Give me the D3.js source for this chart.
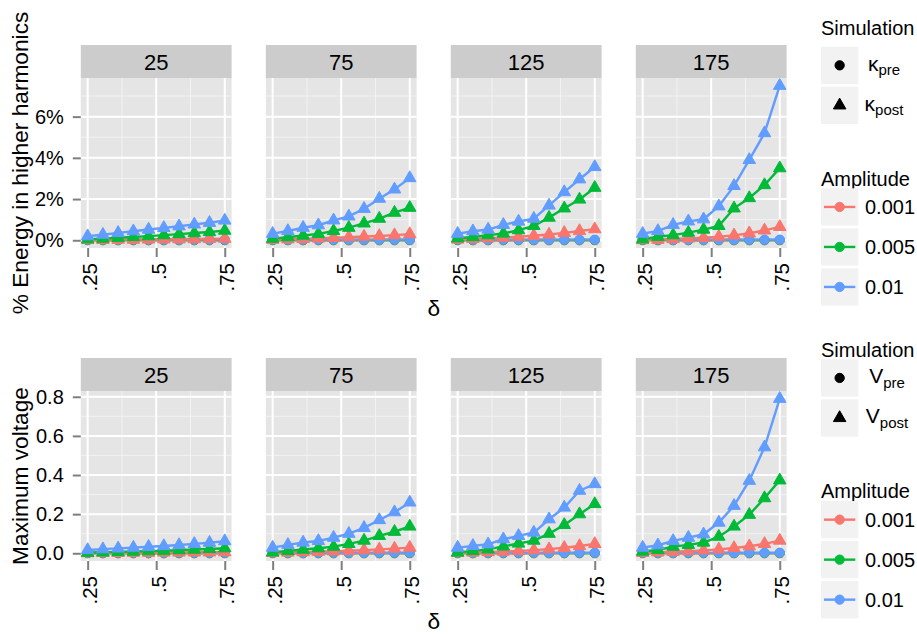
<!DOCTYPE html>
<html>
<head>
<meta charset="utf-8">
<script src="https://cdn.jsdelivr.net/npm/d3@7"></script>
<style>
  body { margin: 0; background: #fff; }
  text { font-family: "Liberation Sans", Arial, Helvetica, sans-serif; fill: #000; }
</style>
</head>
<body>
<svg id="chart" width="917" height="634"></svg>
<script>
// ---- data -------------------------------------------------------------
const deltaValues = [0.25, 0.3056, 0.3611, 0.4167, 0.4722, 0.5278, 0.5833, 0.6389, 0.6944, 0.75];
const panelLabels = ["25", "75", "125", "175"];
const amplitudeLabels = ["0.001", "0.005", "0.01"];
const amplitudeColors = ["#F8766D", "#00BA38", "#619CFF"];

// % energy in higher harmonics, post simulation (rows: amplitude 0.001, 0.005, 0.01)
const energyPost25 = [
  [0.02, 0.02, 0.03, 0.03, 0.04, 0.05, 0.05, 0.06, 0.07, 0.08],
  [0.05, 0.08, 0.12, 0.16, 0.20, 0.25, 0.30, 0.35, 0.40, 0.47],
  [0.20, 0.27, 0.36, 0.44, 0.52, 0.60, 0.68, 0.77, 0.85, 0.96]
];
const energyPost75 = [
  [0.03, 0.05, 0.07, 0.09, 0.12, 0.15, 0.18, 0.21, 0.25, 0.30],
  [0.08, 0.15, 0.23, 0.31, 0.45, 0.61, 0.82, 1.05, 1.34, 1.58],
  [0.32, 0.45, 0.61, 0.73, 0.97, 1.16, 1.53, 2.02, 2.47, 3.02]
];
const energyPost125 = [
  [0.04, 0.07, 0.10, 0.13, 0.17, 0.22, 0.28, 0.36, 0.45, 0.54],
  [0.10, 0.16, 0.25, 0.33, 0.49, 0.70, 1.10, 1.55, 1.98, 2.55],
  [0.32, 0.44, 0.52, 0.75, 0.91, 1.05, 1.69, 2.34, 2.96, 3.56]
];
const energyPost175 = [
  [0.01, 0.03, 0.06, 0.09, 0.12, 0.17, 0.24, 0.34, 0.48, 0.65],
  [0.05, 0.17, 0.25, 0.37, 0.52, 0.70, 1.55, 2.05, 2.68, 3.50],
  [0.32, 0.45, 0.75, 0.92, 1.02, 1.65, 2.64, 3.90, 5.20, 7.50]
];
// % energy, pre simulation (same in every panel)
const energyPre = [
  [0.00, 0.00, 0.00, 0.00, 0.00, 0.00, 0.00, 0.00, 0.00, 0.00],
  [0.01, 0.01, 0.01, 0.01, 0.01, 0.01, 0.01, 0.01, 0.01, 0.01],
  [0.03, 0.03, 0.03, 0.03, 0.03, 0.03, 0.03, 0.03, 0.03, 0.03]
];

// maximum voltage, post simulation
const voltagePost25 = [
  [0.001, 0.002, 0.002, 0.003, 0.003, 0.004, 0.004, 0.005, 0.005, 0.006],
  [0.003, 0.005, 0.007, 0.009, 0.011, 0.013, 0.016, 0.019, 0.022, 0.026],
  [0.017, 0.021, 0.025, 0.029, 0.033, 0.037, 0.042, 0.048, 0.054, 0.062]
];
const voltagePost75 = [
  [0.002, 0.004, 0.006, 0.008, 0.010, 0.013, 0.016, 0.020, 0.024, 0.029],
  [0.005, 0.012, 0.019, 0.026, 0.034, 0.048, 0.065, 0.089, 0.110, 0.137],
  [0.029, 0.043, 0.055, 0.063, 0.080, 0.100, 0.130, 0.170, 0.210, 0.260]
];
const voltagePost125 = [
  [0.002, 0.004, 0.006, 0.009, 0.012, 0.016, 0.021, 0.028, 0.037, 0.048],
  [0.004, 0.012, 0.020, 0.035, 0.050, 0.065, 0.100, 0.145, 0.200, 0.252],
  [0.029, 0.038, 0.046, 0.072, 0.089, 0.106, 0.174, 0.234, 0.320, 0.354]
];
const voltagePost175 = [
  [0.003, 0.005, 0.008, 0.011, 0.015, 0.020, 0.027, 0.036, 0.048, 0.065],
  [0.009, 0.017, 0.034, 0.043, 0.055, 0.085, 0.137, 0.197, 0.282, 0.373],
  [0.029, 0.041, 0.063, 0.080, 0.097, 0.157, 0.243, 0.371, 0.542, 0.790]
];
const voltagePre = [
  [0.000, 0.000, 0.000, 0.000, 0.000, 0.000, 0.000, 0.000, 0.000, 0.000],
  [0.001, 0.001, 0.001, 0.001, 0.001, 0.001, 0.001, 0.001, 0.001, 0.001],
  [0.003, 0.003, 0.003, 0.003, 0.003, 0.003, 0.003, 0.003, 0.003, 0.003]
];

const xTicks = [0.25, 0.5, 0.75];
const xTickLabels = [".25", ".5", ".75"];
const xMinor = [0.375, 0.625];
const energyTicks = [0, 2, 4, 6];
const energyTickLabels = ["0%", "2%", "4%", "6%"];
const voltageTicks = [0, 0.2, 0.4, 0.6, 0.8];
const voltageTickLabels = ["0.0", "0.2", "0.4", "0.6", "0.8"];

// ---- layout -----------------------------------------------------------
const svg = d3.select("#chart");
const panelLeft = 80.8, panelW = 150.8, panelStep = 185;
const stripH = 33;

const rows = [
  { post: [energyPost25, energyPost75, energyPost125, energyPost175], pre: energyPre,
    ticks: energyTicks, tickLabels: energyTickLabels, minor: [1, 3, 5, 7],
    title: "% Energy in higher harmonics", symbol: "κ",
    stripTop: 45, plotTop: 78, plotBottom: 248, xTitleY: 316,
    legend: { simTitleY: 35, simKeys: [46.7, 86.7], ampTitleY: 186, ampKeys: [188.3, 228.3, 268.3] } },
  { post: [voltagePost25, voltagePost75, voltagePost125, voltagePost175], pre: voltagePre,
    ticks: voltageTicks, tickLabels: voltageTickLabels, minor: [0.1, 0.3, 0.5, 0.7],
    title: "Maximum voltage", symbol: "V",
    stripTop: 358, plotTop: 391, plotBottom: 561, xTitleY: 629,
    legend: { simTitleY: 357, simKeys: [359.3, 399.3], ampTitleY: 498, ampKeys: [501, 541, 581] } }
];

const circleSym = d3.symbol().type(d3.symbolCircle).size(68);
const triSym = d3.symbol().type(d3.symbolTriangle).size(68);

rows.forEach(row => {
  // shared y scale for the row, with 5% padding as in ggplot
  const allVals = row.post.flat(2).concat(row.pre.flat());
  const [lo, hi] = d3.extent(allVals);
  const pad = (hi - lo) * 0.05;
  const y = d3.scaleLinear().domain([lo - pad, hi + pad]).range([row.plotBottom, row.plotTop]);
  const x0 = d3.scaleLinear().domain([0.225, 0.775]);

  row.post.forEach((postSet, pi) => {
    const left = panelLeft + pi * panelStep;
    const x = x0.copy().range([left, left + panelW]);
    const g = svg.append("g");

    g.append("rect").attr("x", left).attr("y", row.plotTop)
      .attr("width", panelW).attr("height", row.plotBottom - row.plotTop).attr("fill", "#E5E5E5");

    // minor grid
    g.selectAll(null).data(row.minor.filter(v => v > y.domain()[0] && v < y.domain()[1])).join("line")
      .attr("x1", left).attr("x2", left + panelW).attr("y1", d => y(d)).attr("y2", d => y(d))
      .attr("stroke", "#F2F2F2").attr("stroke-width", 1);
    g.selectAll(null).data(xMinor).join("line")
      .attr("x1", d => x(d)).attr("x2", d => x(d)).attr("y1", row.plotTop).attr("y2", row.plotBottom)
      .attr("stroke", "#F2F2F2").attr("stroke-width", 1);
    // major grid
    g.selectAll(null).data(row.ticks).join("line")
      .attr("x1", left).attr("x2", left + panelW).attr("y1", d => y(d)).attr("y2", d => y(d))
      .attr("stroke", "#fff").attr("stroke-width", 2);
    g.selectAll(null).data(xTicks).join("line")
      .attr("x1", d => x(d)).attr("x2", d => x(d)).attr("y1", row.plotTop).attr("y2", row.plotBottom)
      .attr("stroke", "#fff").attr("stroke-width", 2);

    // series: pre (circles) for every amplitude, then post (triangles)
    const series = [];
    amplitudeLabels.forEach((a, ai) => {
      series.push({ color: amplitudeColors[ai], sym: circleSym, vals: row.pre[ai] });
    });
    amplitudeLabels.forEach((a, ai) => {
      series.push({ color: amplitudeColors[ai], sym: triSym, vals: postSet[ai] });
    });
    const line = d3.line().x((d, i) => x(deltaValues[i])).y(d => y(d));
    series.forEach(s => {
      g.append("path").attr("d", line(s.vals)).attr("fill", "none")
        .attr("stroke", s.color).attr("stroke-width", 2.4);
    });
    series.forEach(s => {
      g.selectAll(null).data(s.vals).join("path")
        .attr("d", s.sym)
        .attr("transform", (d, i) => `translate(${x(deltaValues[i])},${y(d)})`)
        .attr("fill", s.color).attr("stroke", s.color).attr("stroke-width", 1);
    });

    // strip
    g.append("rect").attr("x", left).attr("y", row.stripTop).attr("width", panelW)
      .attr("height", stripH).attr("fill", "#CCCCCC");
    g.append("text").attr("x", left + panelW / 2).attr("y", row.stripTop + stripH / 2 + 1)
      .attr("dy", "0.36em").attr("text-anchor", "middle").style("font-size", "22px")
      .text(panelLabels[pi]);

    // x axis
    const ax = g.append("g").attr("transform", `translate(0,${row.plotBottom})`)
      .call(d3.axisBottom(x).tickValues(xTicks).tickFormat((d, i) => xTickLabels[i])
        .tickSizeInner(9).tickSizeOuter(0));
    ax.select(".domain").remove();
    ax.selectAll(".tick line").attr("stroke", "#7F7F7F").attr("stroke-width", 2);
    ax.selectAll(".tick text")
      .attr("x", 0).attr("y", 0).attr("dy", "0.36em")
      .attr("transform", "translate(1.5,15) rotate(-90)")
      .attr("text-anchor", "end").attr("fill", "#000")
      .style("font-size", "20.5px").style("font-family", "'Liberation Sans', Arial, sans-serif");
  });

  // y axis on first panel
  const ay = svg.append("g").attr("transform", `translate(${panelLeft},0)`)
    .call(d3.axisLeft(y).tickValues(row.ticks).tickFormat((d, i) => row.tickLabels[i])
      .tickSizeInner(8).tickSizeOuter(0).tickPadding(9));
  ay.select(".domain").remove();
  ay.selectAll(".tick line").attr("stroke", "#7F7F7F").attr("stroke-width", 2);
  ay.selectAll(".tick text").attr("fill", "#000").style("font-size", "20px")
    .style("font-family", "'Liberation Sans', Arial, sans-serif");

  // axis titles
  svg.append("text")
    .attr("transform", `translate(28,${(row.plotTop + row.plotBottom) / 2}) rotate(-90)`)
    .attr("text-anchor", "middle").style("font-size", "22.7px").text(row.title);
  svg.append("text").attr("x", (panelLeft + panelLeft + 3 * panelStep + panelW) / 2)
    .attr("y", row.xTitleY).attr("text-anchor", "middle").style("font-size", "22.7px").text("δ");

  // legends
  const L = row.legend, keyX = 821, keyS = 37.3, cx = keyX + keyS / 2;
  svg.append("text").attr("x", keyX).attr("y", L.simTitleY).style("font-size", "20px").text("Simulation");
  ["pre", "post"].forEach((sub, i) => {
    const ky = L.simKeys[i];
    svg.append("rect").attr("x", keyX).attr("y", ky).attr("width", keyS).attr("height", keyS).attr("fill", "#F2F2F2");
    svg.append("path").attr("d", i === 0 ? circleSym : triSym)
      .attr("transform", `translate(${cx},${ky + keyS / 2})`).attr("fill", "#000")
      .attr("stroke", "#000").attr("stroke-width", 1);
    const t = svg.append("text").attr("x", row.symbol === "κ" ? 884 : 887).attr("y", ky + keyS / 2)
      .attr("dy", "0.25em").attr("text-anchor", "middle").style("font-size", "21px");
    t.append("tspan").text(row.symbol);
    t.append("tspan").attr("dy", "0.3em").style("font-size", "15px").text(sub);
  });
  svg.append("text").attr("x", keyX).attr("y", L.ampTitleY).style("font-size", "20px").text("Amplitude");
  amplitudeLabels.forEach((a, i) => {
    const ky = L.ampKeys[i];
    svg.append("rect").attr("x", keyX).attr("y", ky).attr("width", keyS).attr("height", keyS).attr("fill", "#F2F2F2");
    svg.append("line").attr("x1", keyX + 3).attr("x2", keyX + keyS - 3)
      .attr("y1", ky + keyS / 2).attr("y2", ky + keyS / 2)
      .attr("stroke", amplitudeColors[i]).attr("stroke-width", 2.4);
    svg.append("path").attr("d", circleSym).attr("transform", `translate(${cx},${ky + keyS / 2})`)
      .attr("fill", amplitudeColors[i]).attr("stroke", amplitudeColors[i]).attr("stroke-width", 1);
    svg.append("text").attr("x", 865).attr("y", ky + keyS / 2).attr("dy", "0.36em")
      .style("font-size", "20px").text(a);
  });
});
</script>
</body>
</html>
